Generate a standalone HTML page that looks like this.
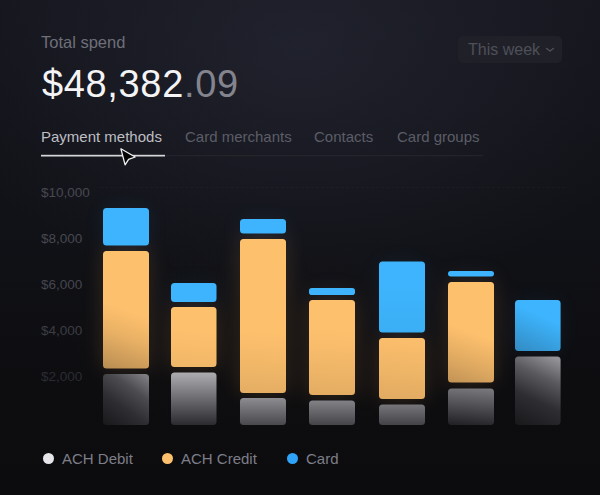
<!DOCTYPE html>
<html><head><meta charset="utf-8">
<style>
html,body{margin:0;padding:0;}
body{width:600px;height:495px;overflow:hidden;position:relative;background:#131417;font-family:"Liberation Sans",sans-serif;}
#bg{position:absolute;left:0;top:0;width:600px;height:495px;background:radial-gradient(ellipse 370px 250px at 300px 50px,rgba(44,46,62,0.50) 0%,rgba(44,46,62,0) 100%),linear-gradient(180deg,#14151c 0%,#111217 45%,#0d0d10 78%,#0c0c0e 100%);}
#glow{position:absolute;left:60px;top:230px;width:480px;height:200px;background:radial-gradient(ellipse 50% 50% at 50% 55%,rgba(120,80,30,0.04) 0%,rgba(120,80,30,0) 100%);}
.t{position:absolute;white-space:nowrap;line-height:1;}
.bar{position:absolute;border-radius:3.5px;}
</style></head><body>
<div id="bg"></div>
<div id="glow"></div>
<div class="t" style="left:41px;top:34px;font-size:16.5px;color:#6e6f79;">Total spend</div>
<div class="t" style="left:42px;top:64.5px;font-size:38px;letter-spacing:0.65px;color:#f4f4f6;">$48,382<span style="color:#83848e">.09</span></div>
<div style="position:absolute;left:458px;top:36px;width:104px;height:27px;border-radius:5px;background:#202128;"></div>
<div class="t" style="left:468px;top:42px;font-size:16px;color:#4e4f59;">This week</div>
<svg style="position:absolute;left:545px;top:46px" width="10" height="8" viewBox="0 0 10 8"><path d="M1.6 2.5 L5 5 L8.4 2.5" fill="none" stroke="#4e4f59" stroke-width="1.5" stroke-linecap="round" stroke-linejoin="round"/></svg>

<div class="t" style="left:41px;top:129px;font-size:15px;color:#bebec3;">Payment methods</div>
<div class="t" style="left:185px;top:129px;font-size:15px;color:#5c5d67;">Card merchants</div>
<div class="t" style="left:314px;top:129px;font-size:15px;color:#5c5d67;">Contacts</div>
<div class="t" style="left:397px;top:129px;font-size:15px;color:#5c5d67;">Card groups</div>
<svg style="position:absolute;left:0;top:140px" width="600" height="40" viewBox="0 140 600 40">
<rect x="41" y="155.2" width="442" height="1" fill="#27282f"/>
<rect x="41" y="154.8" width="124" height="1.7" fill="#d6d6da"/>
<path d="M120.9 148.8 L135.2 157.0 L128.6 159.3 L125.1 164.8 Z" fill="#050506" stroke="#f2f2f4" stroke-width="1.3" stroke-linejoin="round"/>
</svg>

<div style="position:absolute;left:100px;top:187px;width:465px;height:0;border-top:1px dashed rgba(120,120,140,0.06);"></div>
<div class="t" style="left:41px;top:186px;font-size:13.5px;color:#474851;">$10,000</div>
<div class="t" style="left:41px;top:232px;font-size:13.5px;color:#474851;">$8,000</div>
<div class="t" style="left:41px;top:278px;font-size:13.5px;color:#44454e;">$6,000</div>
<div class="t" style="left:41px;top:324px;font-size:13.5px;color:#3b3c44;">$4,000</div>
<div class="t" style="left:41px;top:370px;font-size:13.5px;color:#2b2c32;">$2,000</div>

<svg style="position:absolute;left:0;top:0" width="600" height="495" viewBox="0 0 600 495"><defs>
<linearGradient id="g1" gradientUnits="userSpaceOnUse" x1="126.00" y1="208.00" x2="126.00" y2="245.50"><stop offset="0.350" stop-color="rgb(61,180,253)"/><stop offset="1.000" stop-color="rgb(61,180,253)"/></linearGradient>
<linearGradient id="g2" gradientUnits="userSpaceOnUse" x1="147.57" y1="250.48" x2="104.43" y2="369.02"><stop offset="0.000" stop-color="rgb(253,192,109)"/><stop offset="0.100" stop-color="rgb(253,192,109)"/><stop offset="0.200" stop-color="rgb(253,192,109)"/><stop offset="0.300" stop-color="rgb(253,192,109)"/><stop offset="0.400" stop-color="rgb(253,192,109)"/><stop offset="0.500" stop-color="rgb(253,192,109)"/><stop offset="0.600" stop-color="rgb(244,185,105)"/><stop offset="0.700" stop-color="rgb(233,177,101)"/><stop offset="0.800" stop-color="rgb(217,165,95)"/><stop offset="0.900" stop-color="rgb(201,153,88)"/><stop offset="1.000" stop-color="rgb(183,140,81)"/></linearGradient>
<linearGradient id="g3" gradientUnits="userSpaceOnUse" x1="145.55" y1="371.58" x2="106.45" y2="427.42"><stop offset="0.050" stop-color="rgb(124,124,129)"/><stop offset="0.320" stop-color="rgb(76,76,80)"/><stop offset="0.620" stop-color="rgb(46,46,50)"/><stop offset="1.000" stop-color="rgb(24,24,27)"/></linearGradient>
<linearGradient id="g4" gradientUnits="userSpaceOnUse" x1="193.75" y1="283.00" x2="193.75" y2="302.00"><stop offset="0.350" stop-color="rgb(61,180,253)"/><stop offset="1.000" stop-color="rgb(61,180,253)"/></linearGradient>
<linearGradient id="g5" gradientUnits="userSpaceOnUse" x1="196.53" y1="305.25" x2="190.97" y2="368.75"><stop offset="0.000" stop-color="rgb(253,192,109)"/><stop offset="0.100" stop-color="rgb(253,192,109)"/><stop offset="0.200" stop-color="rgb(253,192,109)"/><stop offset="0.300" stop-color="rgb(253,192,109)"/><stop offset="0.400" stop-color="rgb(253,192,109)"/><stop offset="0.500" stop-color="rgb(251,190,108)"/><stop offset="0.600" stop-color="rgb(249,189,107)"/><stop offset="0.700" stop-color="rgb(247,187,106)"/><stop offset="0.800" stop-color="rgb(245,186,105)"/><stop offset="0.900" stop-color="rgb(242,184,105)"/><stop offset="1.000" stop-color="rgb(240,182,104)"/></linearGradient>
<linearGradient id="g6" gradientUnits="userSpaceOnUse" x1="193.75" y1="372.50" x2="193.75" y2="425.00"><stop offset="0.000" stop-color="rgb(172,172,177)"/><stop offset="1.000" stop-color="rgb(43,43,47)"/></linearGradient>
<linearGradient id="g7" gradientUnits="userSpaceOnUse" x1="263.00" y1="219.00" x2="263.00" y2="233.50"><stop offset="0.350" stop-color="rgb(61,180,253)"/><stop offset="1.000" stop-color="rgb(61,180,253)"/></linearGradient>
<linearGradient id="g8" gradientUnits="userSpaceOnUse" x1="265.71" y1="238.29" x2="260.29" y2="393.71"><stop offset="0.000" stop-color="rgb(253,192,109)"/><stop offset="0.100" stop-color="rgb(253,192,109)"/><stop offset="0.200" stop-color="rgb(253,192,109)"/><stop offset="0.300" stop-color="rgb(253,192,109)"/><stop offset="0.400" stop-color="rgb(253,192,109)"/><stop offset="0.500" stop-color="rgb(253,192,109)"/><stop offset="0.600" stop-color="rgb(253,192,109)"/><stop offset="0.700" stop-color="rgb(248,188,107)"/><stop offset="0.800" stop-color="rgb(242,184,104)"/><stop offset="0.900" stop-color="rgb(235,179,102)"/><stop offset="1.000" stop-color="rgb(228,173,99)"/></linearGradient>
<linearGradient id="g9" gradientUnits="userSpaceOnUse" x1="263.00" y1="398.00" x2="263.00" y2="425.00"><stop offset="0.000" stop-color="rgb(140,140,145)"/><stop offset="1.000" stop-color="rgb(73,73,77)"/></linearGradient>
<linearGradient id="g10" gradientUnits="userSpaceOnUse" x1="332.00" y1="288.00" x2="332.00" y2="295.00"><stop offset="0.350" stop-color="rgb(61,180,253)"/><stop offset="1.000" stop-color="rgb(61,180,253)"/></linearGradient>
<linearGradient id="g11" gradientUnits="userSpaceOnUse" x1="333.68" y1="299.26" x2="330.32" y2="395.74"><stop offset="0.000" stop-color="rgb(253,192,109)"/><stop offset="0.100" stop-color="rgb(253,192,109)"/><stop offset="0.200" stop-color="rgb(253,192,109)"/><stop offset="0.300" stop-color="rgb(253,192,109)"/><stop offset="0.400" stop-color="rgb(251,190,108)"/><stop offset="0.500" stop-color="rgb(248,188,107)"/><stop offset="0.600" stop-color="rgb(244,185,105)"/><stop offset="0.700" stop-color="rgb(240,182,104)"/><stop offset="0.800" stop-color="rgb(236,179,102)"/><stop offset="0.900" stop-color="rgb(231,176,100)"/><stop offset="1.000" stop-color="rgb(227,172,98)"/></linearGradient>
<linearGradient id="g12" gradientUnits="userSpaceOnUse" x1="332.00" y1="400.50" x2="332.00" y2="425.00"><stop offset="0.000" stop-color="rgb(130,130,135)"/><stop offset="1.000" stop-color="rgb(69,69,73)"/></linearGradient>
<linearGradient id="g13" gradientUnits="userSpaceOnUse" x1="402.00" y1="261.50" x2="402.00" y2="332.50"><stop offset="0.350" stop-color="rgb(61,180,253)"/><stop offset="1.000" stop-color="rgb(59,175,245)"/></linearGradient>
<linearGradient id="g14" gradientUnits="userSpaceOnUse" x1="404.82" y1="336.23" x2="399.18" y2="400.77"><stop offset="0.000" stop-color="rgb(251,190,108)"/><stop offset="0.100" stop-color="rgb(249,189,107)"/><stop offset="0.200" stop-color="rgb(247,187,106)"/><stop offset="0.300" stop-color="rgb(244,185,105)"/><stop offset="0.400" stop-color="rgb(242,183,104)"/><stop offset="0.500" stop-color="rgb(239,182,103)"/><stop offset="0.600" stop-color="rgb(236,180,102)"/><stop offset="0.700" stop-color="rgb(234,177,101)"/><stop offset="0.800" stop-color="rgb(231,175,100)"/><stop offset="0.900" stop-color="rgb(228,173,99)"/><stop offset="1.000" stop-color="rgb(225,171,98)"/></linearGradient>
<linearGradient id="g15" gradientUnits="userSpaceOnUse" x1="402.00" y1="404.50" x2="402.00" y2="425.00"><stop offset="0.000" stop-color="rgb(118,118,123)"/><stop offset="1.000" stop-color="rgb(67,67,71)"/></linearGradient>
<linearGradient id="g16" gradientUnits="userSpaceOnUse" x1="471.00" y1="271.00" x2="471.00" y2="276.50"><stop offset="0.350" stop-color="rgb(61,180,253)"/><stop offset="1.000" stop-color="rgb(61,180,253)"/></linearGradient>
<linearGradient id="g17" gradientUnits="userSpaceOnUse" x1="489.84" y1="280.49" x2="452.16" y2="384.01"><stop offset="0.000" stop-color="rgb(253,192,109)"/><stop offset="0.100" stop-color="rgb(253,192,109)"/><stop offset="0.200" stop-color="rgb(253,192,109)"/><stop offset="0.300" stop-color="rgb(253,192,109)"/><stop offset="0.400" stop-color="rgb(253,192,109)"/><stop offset="0.500" stop-color="rgb(253,192,109)"/><stop offset="0.600" stop-color="rgb(243,184,105)"/><stop offset="0.700" stop-color="rgb(232,176,100)"/><stop offset="0.800" stop-color="rgb(220,167,96)"/><stop offset="0.900" stop-color="rgb(207,157,91)"/><stop offset="1.000" stop-color="rgb(193,147,85)"/></linearGradient>
<linearGradient id="g18" gradientUnits="userSpaceOnUse" x1="472.76" y1="386.64" x2="469.24" y2="426.86"><stop offset="0.000" stop-color="rgb(122,122,127)"/><stop offset="1.000" stop-color="rgb(32,32,36)"/></linearGradient>
<linearGradient id="g19" gradientUnits="userSpaceOnUse" x1="551.64" y1="295.82" x2="523.96" y2="355.18"><stop offset="0.350" stop-color="rgb(61,180,253)"/><stop offset="1.000" stop-color="rgb(50,139,194)"/></linearGradient>
<linearGradient id="g20" gradientUnits="userSpaceOnUse" x1="554.99" y1="353.88" x2="520.61" y2="427.62"><stop offset="0.050" stop-color="rgb(146,146,151)"/><stop offset="0.320" stop-color="rgb(90,90,94)"/><stop offset="0.620" stop-color="rgb(46,46,50)"/><stop offset="1.000" stop-color="rgb(24,24,27)"/></linearGradient>
<filter id="bl" x="-20%" y="-20%" width="140%" height="140%"><feGaussianBlur stdDeviation="11"/></filter>
</defs><g filter="url(#bl)" opacity="0.16">
<rect x="103" y="251" width="46" height="117.5" fill="#fdb45a"/>
<rect x="103" y="208" width="46" height="37.5" fill="#3db4fd" opacity="0.5"/>
<rect x="171" y="307" width="45.5" height="60" fill="#fdb45a"/>
<rect x="171" y="283" width="45.5" height="19" fill="#3db4fd" opacity="0.5"/>
<rect x="240" y="239" width="46" height="154" fill="#fdb45a"/>
<rect x="240" y="219" width="46" height="14.5" fill="#3db4fd" opacity="0.5"/>
<rect x="309" y="300" width="46" height="95" fill="#fdb45a"/>
<rect x="309" y="288" width="46" height="7" fill="#3db4fd" opacity="0.5"/>
<rect x="379" y="338" width="46" height="61" fill="#fdb45a"/>
<rect x="379" y="261.5" width="46" height="71" fill="#3db4fd" opacity="0.5"/>
<rect x="448" y="282" width="46" height="100.5" fill="#fdb45a"/>
<rect x="448" y="271" width="46" height="5.5" fill="#3db4fd" opacity="0.5"/>
<rect x="515" y="300" width="45.6" height="51" fill="#3db4fd" opacity="0.5"/>
</g>
<rect x="103" y="208" width="46" height="37.5" rx="3.5" fill="url(#g1)"/>
<rect x="103" y="251" width="46" height="117.5" rx="3.5" fill="url(#g2)"/>
<rect x="103" y="374" width="46" height="51" rx="3.5" fill="url(#g3)"/>
<rect x="171" y="283" width="45.5" height="19" rx="3.5" fill="url(#g4)"/>
<rect x="171" y="307" width="45.5" height="60" rx="3.5" fill="url(#g5)"/>
<rect x="171" y="372.5" width="45.5" height="52.5" rx="3.5" fill="url(#g6)"/>
<rect x="240" y="219" width="46" height="14.5" rx="3.5" fill="url(#g7)"/>
<rect x="240" y="239" width="46" height="154" rx="3.5" fill="url(#g8)"/>
<rect x="240" y="398" width="46" height="27" rx="3.5" fill="url(#g9)"/>
<rect x="309" y="288" width="46" height="7" rx="2.8" fill="url(#g10)"/>
<rect x="309" y="300" width="46" height="95" rx="3.5" fill="url(#g11)"/>
<rect x="309" y="400.5" width="46" height="24.5" rx="3.5" fill="url(#g12)"/>
<rect x="379" y="261.5" width="46" height="71" rx="3.5" fill="url(#g13)"/>
<rect x="379" y="338" width="46" height="61" rx="3.5" fill="url(#g14)"/>
<rect x="379" y="404.5" width="46" height="20.5" rx="3.5" fill="url(#g15)"/>
<rect x="448" y="271" width="46" height="5.5" rx="2.8" fill="url(#g16)"/>
<rect x="448" y="282" width="46" height="100.5" rx="3.5" fill="url(#g17)"/>
<rect x="448" y="388.5" width="46" height="36.5" rx="3.5" fill="url(#g18)"/>
<rect x="515" y="300" width="45.6" height="51" rx="3.5" fill="url(#g19)"/>
<rect x="515" y="356.5" width="45.6" height="68.5" rx="3.5" fill="url(#g20)"/>
</svg>

<div style="position:absolute;left:43px;top:453px;width:11px;height:11px;border-radius:50%;background:#e6e6ea;"></div>
<div class="t" style="left:62px;top:451px;font-size:15px;color:#7d7e88;">ACH Debit</div>
<div style="position:absolute;left:162px;top:453px;width:11px;height:11px;border-radius:50%;background:#fdc06d;"></div>
<div class="t" style="left:181px;top:451px;font-size:15px;color:#7d7e88;">ACH Credit</div>
<div style="position:absolute;left:287px;top:453px;width:11px;height:11px;border-radius:50%;background:#2fa3f7;"></div>
<div class="t" style="left:306px;top:451px;font-size:15px;color:#7d7e88;">Card</div>
</body></html>
